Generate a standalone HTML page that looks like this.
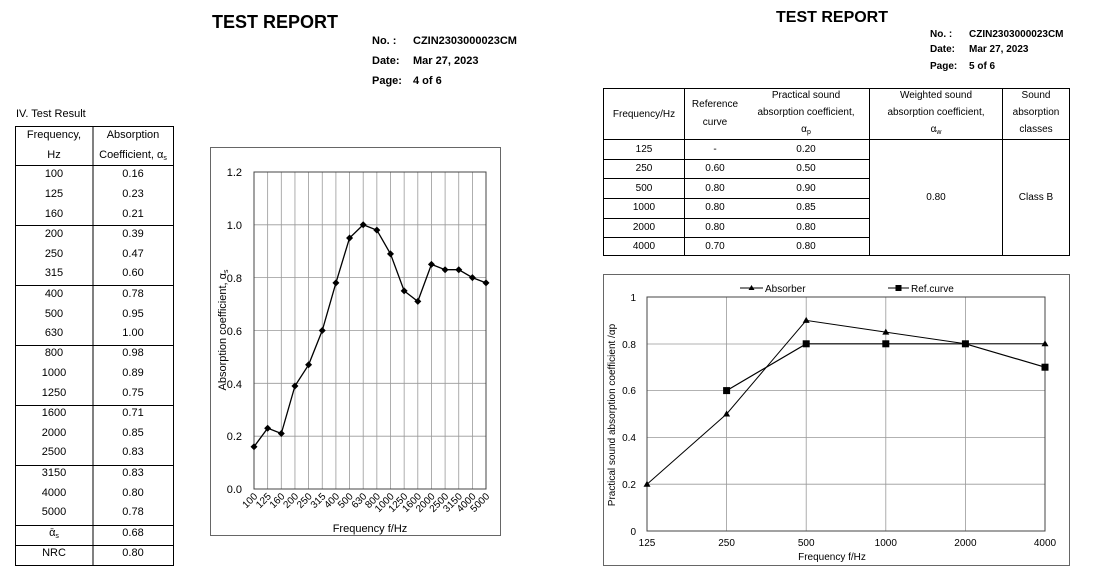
<!DOCTYPE html>
<html><head><meta charset="utf-8"><style>
html,body{margin:0;padding:0;background:#fff;}
svg{display:block;font-family:"Liberation Sans",Arial,sans-serif;}
</style></head><body>
<svg width="1109" height="585" viewBox="0 0 1109 585" xmlns="http://www.w3.org/2000/svg">
<text x="212" y="28" font-size="18" font-weight="bold">TEST REPORT</text>
<g font-size="11" font-weight="bold">
<text x="372" y="44">No.   :</text><text x="413" y="44">CZIN2303000023CM</text>
<text x="372" y="64">Date:</text><text x="413" y="64">Mar 27, 2023</text>
<text x="372" y="84">Page:</text><text x="413" y="84">4 of  6</text>
</g>
<text x="16" y="117" font-size="11">IV.   Test Result</text>
<g stroke="#000" stroke-width="1" fill="none">
<rect x="15.5" y="126.5" width="158" height="439"/>
<line x1="93" y1="126" x2="93" y2="566"/>
<line x1="15" y1="165.5" x2="174" y2="165.5"/>
<line x1="15" y1="225.5" x2="174" y2="225.5"/>
<line x1="15" y1="285.5" x2="174" y2="285.5"/>
<line x1="15" y1="345.5" x2="174" y2="345.5"/>
<line x1="15" y1="405.5" x2="174" y2="405.5"/>
<line x1="15" y1="465.5" x2="174" y2="465.5"/>
<line x1="15" y1="525.5" x2="174" y2="525.5"/>
<line x1="15" y1="545.5" x2="174" y2="545.5"/>
</g>
<g font-size="11" text-anchor="middle">
<text x="54" y="138">Frequency,</text><text x="54" y="158">Hz</text>
<text x="133" y="138">Absorption</text><text x="133" y="158">Coefficient, α<tspan font-size="7" dy="2">s</tspan></text>
<text x="54" y="177">100</text><text x="133" y="177">0.16</text>
<text x="54" y="197">125</text><text x="133" y="197">0.23</text>
<text x="54" y="217">160</text><text x="133" y="217">0.21</text>
<text x="54" y="237">200</text><text x="133" y="237">0.39</text>
<text x="54" y="257">250</text><text x="133" y="257">0.47</text>
<text x="54" y="276">315</text><text x="133" y="276">0.60</text>
<text x="54" y="297">400</text><text x="133" y="297">0.78</text>
<text x="54" y="317">500</text><text x="133" y="317">0.95</text>
<text x="54" y="336">630</text><text x="133" y="336">1.00</text>
<text x="54" y="356">800</text><text x="133" y="356">0.98</text>
<text x="54" y="376">1000</text><text x="133" y="376">0.89</text>
<text x="54" y="396">1250</text><text x="133" y="396">0.75</text>
<text x="54" y="416">1600</text><text x="133" y="416">0.71</text>
<text x="54" y="436">2000</text><text x="133" y="436">0.85</text>
<text x="54" y="455">2500</text><text x="133" y="455">0.83</text>
<text x="54" y="476">3150</text><text x="133" y="476">0.83</text>
<text x="54" y="496">4000</text><text x="133" y="496">0.80</text>
<text x="54" y="515">5000</text><text x="133" y="515">0.78</text>
<text x="54" y="536">ᾱ<tspan font-size="7" dy="2">s</tspan></text><text x="133" y="536">0.68</text>
<text x="54" y="556">NRC</text><text x="133" y="556">0.80</text>
</g>
<rect x="210.5" y="147.5" width="290" height="388" fill="none" stroke="#666" stroke-width="1"/>
<g stroke="#999" stroke-width="0.8">
<line x1="254" y1="224.8" x2="486" y2="224.8"/><line x1="254" y1="277.6" x2="486" y2="277.6"/>
<line x1="254" y1="330.5" x2="486" y2="330.5"/><line x1="254" y1="383.3" x2="486" y2="383.3"/>
<line x1="254" y1="436.2" x2="486" y2="436.2"/>
<line x1="267.65" y1="172" x2="267.65" y2="489"/><line x1="281.3" y1="172" x2="281.3" y2="489"/>
<line x1="294.95" y1="172" x2="294.95" y2="489"/><line x1="308.6" y1="172" x2="308.6" y2="489"/>
<line x1="322.25" y1="172" x2="322.25" y2="489"/><line x1="335.9" y1="172" x2="335.9" y2="489"/>
<line x1="349.55" y1="172" x2="349.55" y2="489"/><line x1="363.2" y1="172" x2="363.2" y2="489"/>
<line x1="376.85" y1="172" x2="376.85" y2="489"/><line x1="390.5" y1="172" x2="390.5" y2="489"/>
<line x1="404.15" y1="172" x2="404.15" y2="489"/><line x1="417.8" y1="172" x2="417.8" y2="489"/>
<line x1="431.45" y1="172" x2="431.45" y2="489"/><line x1="445.1" y1="172" x2="445.1" y2="489"/>
<line x1="458.75" y1="172" x2="458.75" y2="489"/><line x1="472.4" y1="172" x2="472.4" y2="489"/>
</g>
<rect x="254" y="172" width="232" height="317" fill="none" stroke="#444" stroke-width="1"/>
<g font-size="11" text-anchor="end">
<text x="242" y="176">1.2</text><text x="242" y="229">1.0</text><text x="242" y="282">0.8</text>
<text x="242" y="335">0.6</text><text x="242" y="388">0.4</text><text x="242" y="440">0.2</text><text x="242" y="493">0.0</text>
</g>
<text transform="translate(226,330) rotate(-90)" font-size="11" text-anchor="middle">Absorption coefficient, α<tspan font-size="7" dy="2">s</tspan></text>
<g font-size="10" text-anchor="end">
<text transform="translate(258,497) rotate(-45)">100</text><text transform="translate(271.65,497) rotate(-45)">125</text>
<text transform="translate(285.3,497) rotate(-45)">160</text><text transform="translate(298.95,497) rotate(-45)">200</text>
<text transform="translate(312.6,497) rotate(-45)">250</text><text transform="translate(326.25,497) rotate(-45)">315</text>
<text transform="translate(339.9,497) rotate(-45)">400</text><text transform="translate(353.55,497) rotate(-45)">500</text>
<text transform="translate(367.2,497) rotate(-45)">630</text><text transform="translate(380.85,497) rotate(-45)">800</text>
<text transform="translate(394.5,497) rotate(-45)">1000</text><text transform="translate(408.15,497) rotate(-45)">1250</text>
<text transform="translate(421.8,497) rotate(-45)">1600</text><text transform="translate(435.45,497) rotate(-45)">2000</text>
<text transform="translate(449.1,497) rotate(-45)">2500</text><text transform="translate(462.75,497) rotate(-45)">3150</text>
<text transform="translate(476.4,497) rotate(-45)">4000</text><text transform="translate(490,497) rotate(-45)">5000</text>
</g>
<text x="370" y="532" font-size="11" text-anchor="middle">Frequency f/Hz</text>
<polyline fill="none" stroke="#000" stroke-width="1.3" points="254,446.7 267.65,428.2 281.3,433.5 294.95,386 308.6,364.8 322.25,330.5 335.9,282.9 349.55,238 363.2,224.8 376.85,230.1 390.5,253.9 404.15,290.9 417.8,301.4 431.45,264.4 445.1,269.7 458.75,269.7 472.4,277.6 486,282.9"/>
<g fill="#000">
<path d="M254,443.2l3.5,3.5-3.5,3.5-3.5-3.5z"/><path d="M267.65,424.7l3.5,3.5-3.5,3.5-3.5-3.5z"/>
<path d="M281.3,430l3.5,3.5-3.5,3.5-3.5-3.5z"/><path d="M294.95,382.5l3.5,3.5-3.5,3.5-3.5-3.5z"/>
<path d="M308.6,361.3l3.5,3.5-3.5,3.5-3.5-3.5z"/><path d="M322.25,327l3.5,3.5-3.5,3.5-3.5-3.5z"/>
<path d="M335.9,279.4l3.5,3.5-3.5,3.5-3.5-3.5z"/><path d="M349.55,234.5l3.5,3.5-3.5,3.5-3.5-3.5z"/>
<path d="M363.2,221.3l3.5,3.5-3.5,3.5-3.5-3.5z"/><path d="M376.85,226.6l3.5,3.5-3.5,3.5-3.5-3.5z"/>
<path d="M390.5,250.4l3.5,3.5-3.5,3.5-3.5-3.5z"/><path d="M404.15,287.4l3.5,3.5-3.5,3.5-3.5-3.5z"/>
<path d="M417.8,297.9l3.5,3.5-3.5,3.5-3.5-3.5z"/><path d="M431.45,260.9l3.5,3.5-3.5,3.5-3.5-3.5z"/>
<path d="M445.1,266.2l3.5,3.5-3.5,3.5-3.5-3.5z"/><path d="M458.75,266.2l3.5,3.5-3.5,3.5-3.5-3.5z"/>
<path d="M472.4,274.1l3.5,3.5-3.5,3.5-3.5-3.5z"/><path d="M486,279.4l3.5,3.5-3.5,3.5-3.5-3.5z"/>
</g>

<text x="776" y="22" font-size="16" font-weight="bold">TEST REPORT</text>
<g font-size="10" font-weight="bold">
<text x="930" y="37">No.   :</text><text x="969" y="37">CZIN2303000023CM</text>
<text x="930" y="52">Date:</text><text x="969" y="52">Mar 27, 2023</text>
<text x="930" y="69">Page:</text><text x="969" y="69">5 of  6</text>
</g>
<g stroke="#000" stroke-width="1" fill="none">
<rect x="603.5" y="88.5" width="466" height="167"/>
<line x1="684.5" y1="88" x2="684.5" y2="256"/>
<line x1="869.5" y1="88" x2="869.5" y2="256"/>
<line x1="1002.5" y1="88" x2="1002.5" y2="256"/>
<line x1="603" y1="139.5" x2="1070" y2="139.5"/>
<line x1="603" y1="159.5" x2="869" y2="159.5"/>
<line x1="603" y1="178.5" x2="869" y2="178.5"/>
<line x1="603" y1="198.5" x2="869" y2="198.5"/>
<line x1="603" y1="218.5" x2="869" y2="218.5"/>
<line x1="603" y1="237.5" x2="869" y2="237.5"/>
</g>
<g font-size="10" text-anchor="middle">
<text x="644" y="117">Frequency/Hz</text>
<text x="715" y="107">Reference</text><text x="715" y="125">curve</text>
<text x="806" y="98">Practical sound</text><text x="806" y="115">absorption coefficient,</text><text x="806" y="132">α<tspan font-size="7" dy="2">p</tspan></text>
<text x="936" y="98">Weighted sound</text><text x="936" y="115">absorption coefficient,</text><text x="936" y="132">α<tspan font-size="7" dy="2">w</tspan></text>
<text x="1036" y="98">Sound</text><text x="1036" y="115">absorption</text><text x="1036" y="132">classes</text>
<text x="644" y="152">125</text><text x="715" y="152">-</text><text x="806" y="152">0.20</text>
<text x="644" y="171">250</text><text x="715" y="171">0.60</text><text x="806" y="171">0.50</text>
<text x="644" y="191">500</text><text x="715" y="191">0.80</text><text x="806" y="191">0.90</text>
<text x="644" y="210">1000</text><text x="715" y="210">0.80</text><text x="806" y="210">0.85</text>
<text x="644" y="230">2000</text><text x="715" y="230">0.80</text><text x="806" y="230">0.80</text>
<text x="644" y="249">4000</text><text x="715" y="249">0.70</text><text x="806" y="249">0.80</text>
<text x="936" y="200">0.80</text><text x="1036" y="200">Class B</text>
</g>
<rect x="603.5" y="274.5" width="466" height="291" fill="none" stroke="#666" stroke-width="1"/>
<g stroke="#999" stroke-width="0.8">
<line x1="647" y1="344" x2="1045" y2="344"/><line x1="647" y1="390.6" x2="1045" y2="390.6"/>
<line x1="647" y1="437.4" x2="1045" y2="437.4"/><line x1="647" y1="484.2" x2="1045" y2="484.2"/>
<line x1="726.6" y1="297" x2="726.6" y2="531"/><line x1="806.2" y1="297" x2="806.2" y2="531"/>
<line x1="885.8" y1="297" x2="885.8" y2="531"/><line x1="965.4" y1="297" x2="965.4" y2="531"/>
</g>
<rect x="647" y="297" width="398" height="234" fill="none" stroke="#444" stroke-width="1"/>
<g font-size="10" text-anchor="end">
<text x="636" y="301">1</text><text x="636" y="348">0.8</text><text x="636" y="394">0.6</text>
<text x="636" y="441">0.4</text><text x="636" y="488">0.2</text><text x="636" y="535">0</text>
</g>
<g font-size="10" text-anchor="middle">
<text x="647" y="546">125</text><text x="726.6" y="546">250</text><text x="806.2" y="546">500</text>
<text x="885.8" y="546">1000</text><text x="965.4" y="546">2000</text><text x="1045" y="546">4000</text>
<text x="832" y="560">Frequency  f/Hz</text>
</g>
<text transform="translate(615,415) rotate(-90)" font-size="10" text-anchor="middle">Practical sound absorption coefficient /αp</text>
<polyline fill="none" stroke="#000" stroke-width="1" points="647,484.2 726.6,414 806.2,320.4 885.8,332.1 965.4,343.8 1045,343.8"/>
<polyline fill="none" stroke="#000" stroke-width="1.2" points="726.6,390.6 806.2,343.8 885.8,343.8 965.4,343.8 1045,367.2"/>
<g fill="#000">
<path d="M647,480.7l3.5,6h-7z"/><path d="M726.6,410.5l3.5,6h-7z"/><path d="M806.2,316.9l3.5,6h-7z"/>
<path d="M885.8,328.6l3.5,6h-7z"/><path d="M965.4,340.3l3.5,6h-7z"/><path d="M1045,340.3l3.5,6h-7z"/>
<rect x="723.1" y="387.1" width="7" height="7"/><rect x="802.7" y="340.3" width="7" height="7"/>
<rect x="882.3" y="340.3" width="7" height="7"/><rect x="961.9" y="340.3" width="7" height="7"/>
<rect x="1041.5" y="363.7" width="7" height="7"/>
</g>
<line x1="740" y1="288" x2="763" y2="288" stroke="#000"/>
<path d="M751.5,285l3,5h-6z" fill="#000"/>
<text x="765" y="292" font-size="10">Absorber</text>
<line x1="888" y1="288" x2="909" y2="288" stroke="#000"/>
<rect x="895.5" y="285" width="6" height="6" fill="#000"/>
<text x="911" y="292" font-size="10">Ref.curve</text>
</svg>
</body></html>
